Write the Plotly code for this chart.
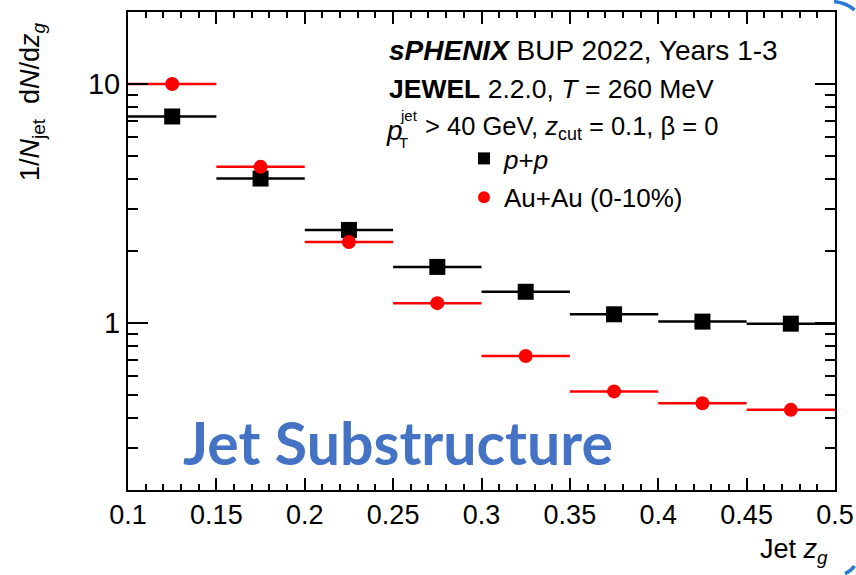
import math
import plotly.graph_objects as go

# ---- data ----
zg_centers = [0.125, 0.175, 0.225, 0.275, 0.325, 0.375, 0.425, 0.475]
zg_halfwidth = [0.025] * 8
pp_values = [7.31, 4.02, 2.45, 1.716, 1.35, 1.087, 1.013, 0.993]
auau_values = [10.0, 4.50, 2.18, 1.21, 0.727, 0.517, 0.461, 0.433]
x_tick_vals = [0.1, 0.15, 0.2, 0.25, 0.3, 0.35, 0.4, 0.45, 0.5]
x_tick_text = ["0.1", "0.15", "0.2", "0.25", "0.3", "0.35", "0.4", "0.45", "0.5"]
y_tick_vals = [1, 10]
y_tick_text = ["1", "10"]
y_minor_vals = [0.3, 0.4, 0.5, 0.6, 0.7, 0.8, 0.9, 2, 3, 4, 5, 6, 7, 8, 9]
y_range = [0.2, 20]

W, H = 856, 575
L, R, T, B = 128, 21, 12, 85
PW, PH = W - L - R, H - T - B


def px(x):
    return (x - L) / PW


def py(y):
    return (H - B - y) / PH


FONT = "Liberation Sans, Arial, Helvetica, sans-serif"
RED = "#ff0000"

fig = go.Figure()
fig.add_trace(go.Scatter(
    x=zg_centers, y=pp_values, mode="markers", name="<i>p</i>+<i>p</i>",
    legendgroup="pp",
    marker=dict(symbol="square", size=16, color="black"),
    error_x=dict(type="data", array=zg_halfwidth, color="black", thickness=2.5, width=0),
))
fig.add_trace(go.Scatter(
    x=zg_centers, y=auau_values, mode="markers", name="Au+Au (0-10%)",
    legendgroup="auau",
    marker=dict(symbol="circle", size=14, color=RED),
    error_x=dict(type="data", array=zg_halfwidth, color=RED, thickness=2.5, width=0),
))

fig.update_xaxes(
    range=[0.1, 0.5], tickmode="array", tickvals=x_tick_vals, ticktext=x_tick_text,
    ticks="inside", ticklen=12, tickwidth=1.5, tickcolor="black",
    minor=dict(dtick=0.01, tick0=0.1, ticks="inside", ticklen=6, tickwidth=1.5, tickcolor="black"),
    showline=True, linewidth=2, linecolor="black", mirror="allticks",
    showgrid=False, zeroline=False, automargin=False,
    tickfont=dict(family=FONT, size=27, color="black"),
)
fig.update_yaxes(
    type="log", range=[math.log10(y_range[0]), math.log10(y_range[1])], tickmode="array",
    tickvals=y_tick_vals, ticktext=y_tick_text,
    ticks="inside", ticklen=20, tickwidth=1.5, tickcolor="black",
    minor=dict(tickmode="array", tickvals=y_minor_vals, ticks="inside", ticklen=10,
               tickwidth=1.5, tickcolor="black"),
    showline=True, linewidth=2, linecolor="black", mirror="allticks",
    showgrid=False, zeroline=False, automargin=False,
    tickfont=dict(family=FONT, size=29, color="black"),
)

ann = []
ann.append(dict(x=px(387), y=py(50), xref="paper", yref="paper", xanchor="left", yanchor="middle",
                text="<b><i>sPHENIX</i></b> BUP 2022, Years 1-3", showarrow=False,
                font=dict(family=FONT, size=28, color="black")))
ann.append(dict(x=px(387), y=py(89), xref="paper", yref="paper", xanchor="left", yanchor="middle",
                text="<b>JEWEL</b> 2.2.0, <i>T</i> = 260 MeV", showarrow=False,
                font=dict(family=FONT, size=26.5, color="black")))
ann.append(dict(x=px(384), y=py(130), xref="paper", yref="paper", xanchor="left", yanchor="middle",
                text="<i>p</i>", showarrow=False, font=dict(family=FONT, size=28, color="black")))
ann.append(dict(x=px(398), y=py(115), xref="paper", yref="paper", xanchor="left", yanchor="middle",
                text="jet", showarrow=False, font=dict(family=FONT, size=15, color="black")))
ann.append(dict(x=px(397), y=py(143), xref="paper", yref="paper", xanchor="left", yanchor="middle",
                text="T", showarrow=False, font=dict(family=FONT, size=15, color="black")))
ann.append(dict(x=px(423), y=py(128), xref="paper", yref="paper", xanchor="left", yanchor="middle",
                text="> 40 GeV, <i>z</i><sub>cut</sub> = 0.1, β = 0", showarrow=False,
                font=dict(family=FONT, size=25.5, color="black")))
# y-axis title
ann.append(dict(x=px(32), y=py(102), xref="paper", yref="paper", xanchor="center", yanchor="middle",
                textangle=-90, text="1/<i>N</i><sub>jet</sub>  d<i>N</i>/d<i>z</i><sub><i>g</i></sub>",
                showarrow=False, font=dict(family=FONT, size=27, color="black")))
# x-axis title
ann.append(dict(x=px(830), y=py(551), xref="paper", yref="paper", xanchor="right", yanchor="middle",
                text="Jet <i>z</i><sub><i>g</i></sub>", showarrow=False,
                font=dict(family=FONT, size=27, color="black")))
# overlay label
ann.append(dict(x=px(181), y=py(442), xref="paper", yref="paper", xanchor="left", yanchor="middle",
                text="<b>Jet Substructure</b>", showarrow=False,
                font=dict(family="Lato, Open Sans, sans-serif", size=59, color="#4472C4")))

shapes = [
    dict(type="path", xref="paper", yref="paper",
         path=f"M {px(834)} {py(1.5)} Q {px(847)} {py(3)} {px(854.5)} {py(10)}",
         line=dict(color="#2a7ad6", width=3.5)),
    dict(type="path", xref="paper", yref="paper",
         path=f"M {px(845)} {py(573.5)} Q {px(851)} {py(571)} {px(854.5)} {py(566)}",
         line=dict(color="#2a7ad6", width=3.5)),
]

fig.update_layout(
    width=W, height=H, margin=dict(l=L, r=R, t=T, b=B, pad=0),
    plot_bgcolor="white", paper_bgcolor="white",
    annotations=ann, shapes=shapes,
    showlegend=True,
    legend=dict(x=px(464), y=py(135), xanchor="left", yanchor="top",
                bgcolor="rgba(0,0,0,0)", tracegroupgap=2, itemsizing="constant",
                font=dict(family=FONT, size=26, color="black")),
)

fig.write_html("out.html")
